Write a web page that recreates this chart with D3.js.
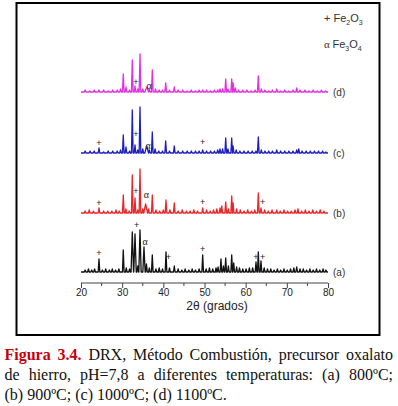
<!DOCTYPE html>
<html><head><meta charset="utf-8">
<script src="https://cdn.jsdelivr.net/npm/d3@7"></script>
<style>body{margin:0;background:#fff} svg{display:block}</style>
</head><body><svg id="c" width="398" height="406"></svg>
<script>
// ---- data ----
const seriesNames = ["(a)", "(b)", "(c)", "(d)"];
const seriesColors = ["#111111", "#e8262a", "#1f1fbf", "#e030e0"];
const seriesOffsets = [11, 70, 130, 191];           // stacking offset (intensity units)
const xTicks = [20, 30, 40, 50, 60, 70, 80];
const xMinorTicks = [25, 35, 45, 55, 65, 75];
// peaks: [2theta, intensity, halfWidth(optional)]
const peaksA = [[21.0,2],[21.8,3],[22.6,2],[23.3,3],[24.37,13],[25.2,2],[26.0,3],[26.9,2],[27.6,3],[28.4,2],[29.2,3],[30.27,22],[31.0,4],[31.8,3],[32.46,40,0.3],[33.12,38,0.3],[33.8,6],[34.33,42,0.28],[35.3,25,0.28],[35.9,8],[36.6,4],[37.32,17],[38.2,3],[39.0,4],[39.8,3],[40.65,20],[41.5,4],[42.66,6],[43.6,3],[44.5,2],[45.3,3],[46.2,2],[47.0,3],[47.8,2],[48.7,3],[49.56,17],[50.4,3],[51.2,4],[52.0,3],[52.8,4],[53.3,5],[54.0,13],[54.6,6],[55.15,14],[55.8,6],[56.61,17],[57.1,9],[57.8,5],[58.5,4],[59.3,3],[60.1,3],[60.9,4],[61.7,4],[62.51,10],[63.07,20],[63.72,11],[64.5,4],[65.3,3],[66.1,3],[66.9,2],[67.7,3],[68.5,2],[69.3,3],[70.1,2],[70.9,3],[71.7,4],[72.4,5],[73.2,3],[74.0,3],[74.8,2],[75.6,3],[76.4,2],[77.2,3],[78.0,2],[78.8,3],[79.5,2]];
const peaksB = [[21.0,2],[22.0,3],[23.0,2],[24.37,5],[25.5,2],[26.5,2],[27.5,2],[28.5,3],[29.3,2],[30.27,18],[30.9,4],[31.7,2],[32.46,38],[33.12,15],[33.8,3],[34.33,44],[35.0,4],[35.7,9,0.45],[36.4,4],[37.32,18],[38.2,3],[39.1,2],[40.0,3],[40.65,13],[41.6,3],[42.66,10],[43.6,2],[44.6,3],[45.6,2],[46.5,2],[47.4,3],[48.3,2],[49.56,5],[50.5,3],[51.4,2],[52.2,3],[53.0,4],[53.76,5],[54.2,7],[55.15,11],[55.8,4],[56.61,17],[56.95,10],[57.8,4],[58.7,3],[59.6,2],[60.5,3],[61.4,2],[62.2,3],[63.07,20],[63.72,5],[64.6,3],[65.5,2],[66.4,3],[67.54,3],[68.4,2],[69.3,3],[70.2,2],[71.1,2],[72.0,3],[72.7,4],[73.6,2],[74.5,3],[75.4,2],[76.3,3],[77.2,2],[78.1,3],[79.0,2]];
const peaksC = [[21.0,2],[22.2,2],[23.2,2],[24.37,5],[25.5,1],[26.6,2],[27.7,2],[28.8,2],[29.6,3],[30.27,18],[30.93,6],[31.8,2],[32.46,43],[33.12,8],[33.8,3],[34.33,46],[35.0,4],[35.96,7,0.45],[36.6,3],[37.32,21],[38.0,4],[38.9,2],[39.8,2],[40.57,12],[41.5,2],[42.66,7],[43.6,2],[44.7,2],[45.8,2],[46.8,2],[47.8,2],[48.7,2],[49.56,3],[50.5,2],[51.5,2],[52.4,2],[53.2,3],[53.76,4],[54.4,4],[55.15,15],[55.7,4],[56.61,15],[56.95,7],[57.7,3],[58.6,2],[59.6,2],[60.6,2],[61.6,2],[62.5,2],[63.07,16],[63.8,3],[64.7,2],[65.6,2],[66.5,2],[67.54,3],[68.5,2],[69.5,2],[70.5,2],[71.5,2],[72.4,3],[72.9,4],[73.7,2],[74.7,2],[75.7,2],[76.7,2],[77.7,2],[78.7,2],[79.5,1]];
const peaksD = [[21.0,2],[22.1,1],[23.2,2],[24.37,2],[25.5,2],[26.6,1],[27.7,2],[28.8,2],[29.6,3],[30.27,18],[30.93,5],[31.8,2],[32.46,32],[33.12,6],[33.8,3],[34.33,38],[35.0,3],[35.96,5,0.45],[36.6,3],[37.32,22],[38.1,3],[39.0,2],[39.8,2],[40.57,9],[41.5,2],[42.66,5],[43.6,2],[44.7,2],[45.8,1],[46.8,2],[47.8,1],[48.7,2],[49.56,2],[50.5,2],[51.5,1],[52.4,2],[53.2,2],[53.76,3],[54.4,3],[55.15,13],[55.7,3],[56.61,13],[56.95,9],[57.5,4],[58.3,2],[59.3,2],[60.3,2],[61.3,1],[62.3,2],[63.07,16],[63.8,3],[64.7,2],[65.6,1],[66.5,2],[67.54,3],[68.5,1],[69.5,2],[70.5,1],[71.5,2],[72.4,4],[73.2,2],[74.4,2],[75.4,1],[76.4,2],[77.4,1],[78.4,2],[79.4,1]];
const seriesPeaks = [peaksA, peaksB, peaksC, peaksD];
// phase markers: [seriesIndex, 2theta, height above baseline, symbol]
const markers = [
  [0,24.37,19,"+"],[0,33.53,47,"+"],[0,35.55,31,"α"],[0,41.21,15,"+"],[0,49.56,23,"+"],[0,62.51,15,"+"],[0,64.13,15,"+"],
  [1,24.37,10,"+"],[1,33.36,22,"+"],[1,35.9,19,"α"],[1,49.56,11,"+"],[1,64.13,11,"+"],
  [2,24.37,10,"+"],[2,33.36,19,"+"],[2,36.3,8,"α"],[2,49.56,11,"+"],
  [3,33.36,10,"+"],[3,36.52,7,"α"]
];
const legendItems = [["+ ", "Fe", "2", "O", "3"], ["α ", "Fe", "3", "O", "4"]];
const xTitle = "2θ (grados)";
const captionLines = [
  [["Figura", true], ["3.4.", true], ["DRX,"], ["Método"], ["Combustión,"], ["precursor"], ["oxalato"]],
  [["de"], ["hierro,"], ["pH=7,8"], ["a"], ["diferentes"], ["temperaturas:"], ["(a)"], ["800ºC;"]],
  [["(b) 900ºC; (c) 1000ºC; (d) 1100ºC."]]
];

// ---- drawing ----
const svg = d3.select("#c");
const x = d3.scaleLinear().domain([20, 80]).range([81, 328]);
const y = d3.scaleLinear().domain([0, 280]).range([283, 3]);

svg.append("rect").attr("x", 16.5).attr("y", 3).attr("width", 363).attr("height", 332)
  .attr("fill", "none").attr("stroke", "#000").attr("stroke-width", 2);

const line = d3.line().x(d => x(d[0])).y(d => y(d[1]));
seriesPeaks.forEach((pk, i) => {
  const off = seriesOffsets[i];
  const pts = [[20, off]];
  pk.slice().sort((a, b) => a[0] - b[0]).forEach(p => {
    const w = p[2] || 0.2;
    pts.push([p[0] - w, off], [p[0], off + p[1]], [p[0] + w, off]);
  });
  pts.push([80, off]);
  svg.append("path").datum(pts).attr("d", line).attr("fill", "none")
    .attr("stroke", seriesColors[i]).attr("stroke-width", 1.3).attr("stroke-linejoin", "round");
  svg.append("text").attr("x", 333).attr("y", y(off)).attr("dominant-baseline", "central")
    .attr("font-family", "Liberation Sans, Arial, sans-serif").attr("font-size", 10)
    .attr("fill", "#333").text(seriesNames[i]);
});

svg.selectAll("text.mk").data(markers).join("text").attr("class", "mk")
  .attr("x", d => x(d[1])).attr("y", d => y(seriesOffsets[d[0]] + d[2]))
  .attr("text-anchor", "middle").attr("dominant-baseline", "central")
  .attr("font-family", d => d[3] === "α" ? "Liberation Serif, serif" : "Liberation Sans, sans-serif")
  .attr("font-size", d => d[3] === "α" ? 10 : 9).attr("fill", "#222").text(d => d[3]);

// x axis
const axisY = y(0);
const ax = svg.append("g").attr("transform", `translate(0,${axisY})`)
  .call(d3.axisBottom(x).tickValues(xTicks).tickSize(5).tickPadding(1).tickFormat(d3.format("d")));
ax.select(".domain").attr("stroke", "#444").attr("d", `M${x(20)},0H${x(80)}`);
ax.selectAll(".tick line").attr("stroke", "#444");
ax.selectAll(".tick text").attr("font-family", "Liberation Sans, Arial, sans-serif").attr("font-size", 10).attr("fill", "#222");
ax.selectAll("line.minor").data(xMinorTicks).join("line").attr("class", "minor")
  .attr("x1", d => x(d)).attr("x2", d => x(d)).attr("y1", 0).attr("y2", 3).attr("stroke", "#444");
svg.append("text").attr("x", 217).attr("y", 310).attr("text-anchor", "middle")
  .attr("font-family", "Liberation Sans, Arial, sans-serif").attr("font-size", 12).attr("fill", "#222").text(xTitle);

// legend
legendItems.forEach((it, i) => {
  const t = svg.append("text").attr("x", 324).attr("y", 22 + i * 26)
    .attr("font-family", "Liberation Sans, Arial, sans-serif").attr("font-size", 11).attr("fill", "#333");
  t.append("tspan").attr("font-family", i === 1 ? "Liberation Serif, serif" : null).text(it[0]);
  t.append("tspan").text(it[1]);
  t.append("tspan").attr("font-size", 7).attr("dy", 3).text(it[2]);
  t.append("tspan").attr("dy", -3).text(it[3]);
  t.append("tspan").attr("font-size", 7).attr("dy", 3).text(it[4]);
});

// caption (justified lines)
const capLeft = 4.5, capRight = 393, capBase = [360, 380, 400];
captionLines.forEach((words, li) => {
  const g = svg.append("g");
  const nodes = words.map(w => g.append("text").attr("y", capBase[li])
    .attr("font-family", "Liberation Serif, 'Times New Roman', serif").attr("font-size", 16)
    .attr("font-weight", w[1] ? "bold" : null).attr("fill", w[1] ? "#c8000a" : "#111").text(w[0]));
  const widths = nodes.map(n => n.node().getComputedTextLength());
  const total = d3.sum(widths);
  const gap = words.length > 1 ? (capRight - capLeft - total) / (words.length - 1) : 0;
  let cx = capLeft;
  nodes.forEach((n, k) => { n.attr("x", cx); cx += widths[k] + gap; });
});
</script></body></html>
